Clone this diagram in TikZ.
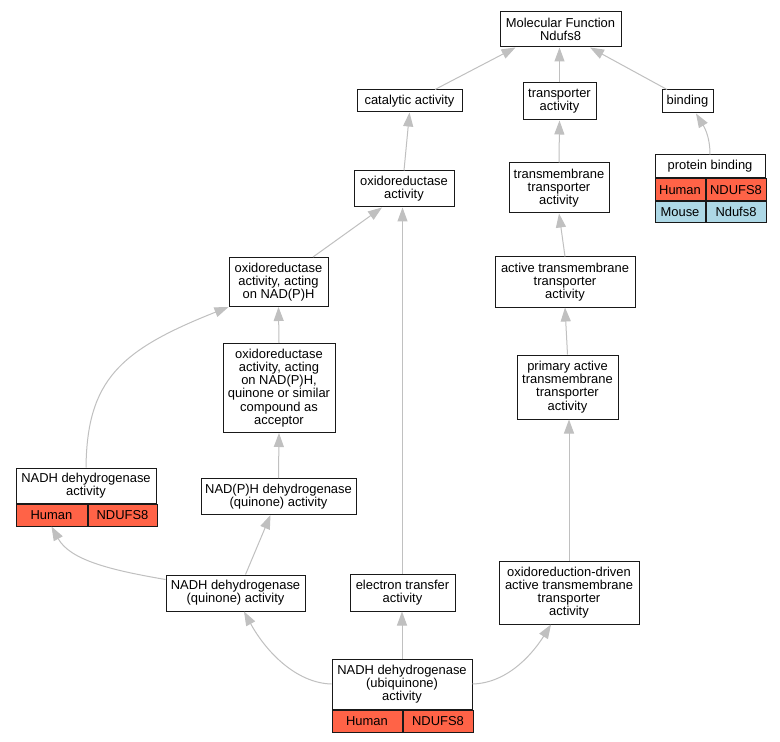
\documentclass[tikz,border=0pt]{standalone}
\usepackage{fontspec}
\setmainfont{Liberation Sans}
\usepackage{xcolor}
\usetikzlibrary{positioning, arrows.meta, calc}

\definecolor{human}{HTML}{FF6347}
\definecolor{mouse}{HTML}{ADD8E6}
\definecolor{edgegray}{HTML}{C0C0C0}

\tikzset{
  term/.style={draw=black!90, line width=0.75pt, fill=white, align=center, inner sep=0pt, font=\fontsize{9.7}{9.9}\selectfont},
  sz/.style 2 args={minimum width=#1*0.75pt, minimum height=#2*0.75pt},
  link/.style={draw=edgegray, line width=0.75pt, -{Triangle[length=10.5pt, width=7.5pt]}},
}

\begin{document}
\begin{tikzpicture}[x=0.75pt, y=-0.75pt]
        \path[fill=white, use as bounding box] (0,0) rectangle (780,741);

        \node[term, sz={121}{35}] (mf) at (560.5,29.5) {Molecular Function\\Ndufs8};
        \node[term, sz={105}{22}] (cat) at (409.5,101) {catalytic activity};
        \node[term, sz={73}{37}] (trans) at (559.5,101.5) {transporter\\activity};
        \node[term, sz={51}{23}] (bind) at (687.5,101.5) {binding};

        \node[term, sz={110}{23}] (pb) at (710,166.5) {protein binding};
        \node[term, fill=human, sz={50}{21.5}, below right=0pt and 0pt of pb.south west] (pbh) {Human};
        \node[term, fill=human, sz={60}{21.5}, right=0pt of pbh] (pbhg) {NDUFS8};
        \node[term, fill=mouse, sz={50}{21.5}, below=0pt of pbh] (pbm) {Mouse};
        \node[term, fill=mouse, sz={60}{21.5}, right=0pt of pbm] (pbmg) {Ndufs8};

        \node[term, sz={100}{36}] (oxact) at (404,189) {oxidoreductase\\activity};
        \node[term, sz={100}{50}] (tmt) at (559,188) {transmembrane\\transporter\\activity};
        \node[term, sz={99}{49}] (oxnad) at (278.5,282) {oxidoreductase\\activity, acting\\on NAD(P)H};
        \node[term, sz={140}{50}] (atmt) at (565,282) {active transmembrane\\transporter\\activity};
        \node[term, sz={112}{89}] (acc) at (279,388) {oxidoreductase\\activity, acting\\on NAD(P)H,\\quinone or similar\\compound as\\acceptor};
        \node[term, sz={101}{64}] (patmt) at (567.5,387) {primary active\\transmembrane\\transporter\\activity};

        \node[term, sz={140}{35}] (ndh) at (86,485.5) {NADH dehydrogenase\\activity};
        \node[term, fill=human, sz={71}{22}, below right=0pt and 0pt of ndh.south west] (ndhh) {Human};
        \node[term, fill=human, sz={69}{22}, right=0pt of ndhh] (ndhg) {NDUFS8};
        \node[term, sz={155}{36}] (npq) at (278.5,496.5) {NAD(P)H dehydrogenase\\(quinone) activity};

        \node[term, sz={139}{36}] (nq) at (235.5,593) {NADH dehydrogenase\\(quinone) activity};
        \node[term, sz={105}{37}] (et) at (402.5,592.5) {electron transfer\\activity};
        \node[term, sz={140}{63}] (ord) at (569,592.5) {oxidoreduction-driven\\active transmembrane\\transporter\\activity};

        \node[term, sz={140}{50}] (ubq) at (402,684) {NADH dehydrogenase\\(ubiquinone)\\activity};
        \node[term, fill=human, sz={70}{22}, below right=0pt and 0pt of ubq.south west] (ubqh) {Human};
        \node[term, fill=human, sz={70}{22}, right=0pt of ubqh] (ubqg) {NDUFS8};

        \draw[link] ($(cat.north)+(25.5,0)$) -- ($(mf.south west)+(16,0)$);
        \draw[link] (trans.north) -- (trans.north |- mf.south);
        \draw[link] ($(bind.north)+(-20.5,0)$) -- ($(mf.south)+(29.5,0)$);
        \draw[link] (pb.north) .. controls (710,135) and (703,125) .. ($(bind.south)+(8.5,0)$);
        \draw[link] (oxact.north) -- (cat.south);
        \draw[link] (tmt.north) -- (trans.south);
        \draw[link] ($(oxnad.north)+(34.5,0)$) -- ($(oxact.south)+(-22,0)$);
        \draw[link] (atmt.north) -- (tmt.south);
        \draw[link] (acc.north) -- (oxnad.south);
        \draw[link] (patmt.north) -- (atmt.south);
        \draw[link] (ndh.north) .. controls (87,380) and (120,350) .. (oxnad.south west);
        \draw[link] (npq.north) -- (acc.south);
        \draw[link] ($(nq.north west)+(0,5)$) .. controls (110,570) and (70,560) .. (ndhh.south);
        \draw[link] ($(nq.north)+(10,0)$) -- ($(npq.south)+(-8,0)$);
        \draw[link] (et.north) -- (et.north |- oxact.south);
        \draw[link] (ord.north) -- (ord.north |- patmt.south);
        \draw[link] (ubq.west) .. controls (295,683) and (265,650) .. ($(nq.south)+(8.5,0)$);
        \draw[link] (ubq.north) -- (ubq.north |- et.south);
        \draw[link] (ubq.east) .. controls (510,683) and (535,650) .. ($(ord.south)+(-18,0)$);
      \end{tikzpicture}
\end{document}
